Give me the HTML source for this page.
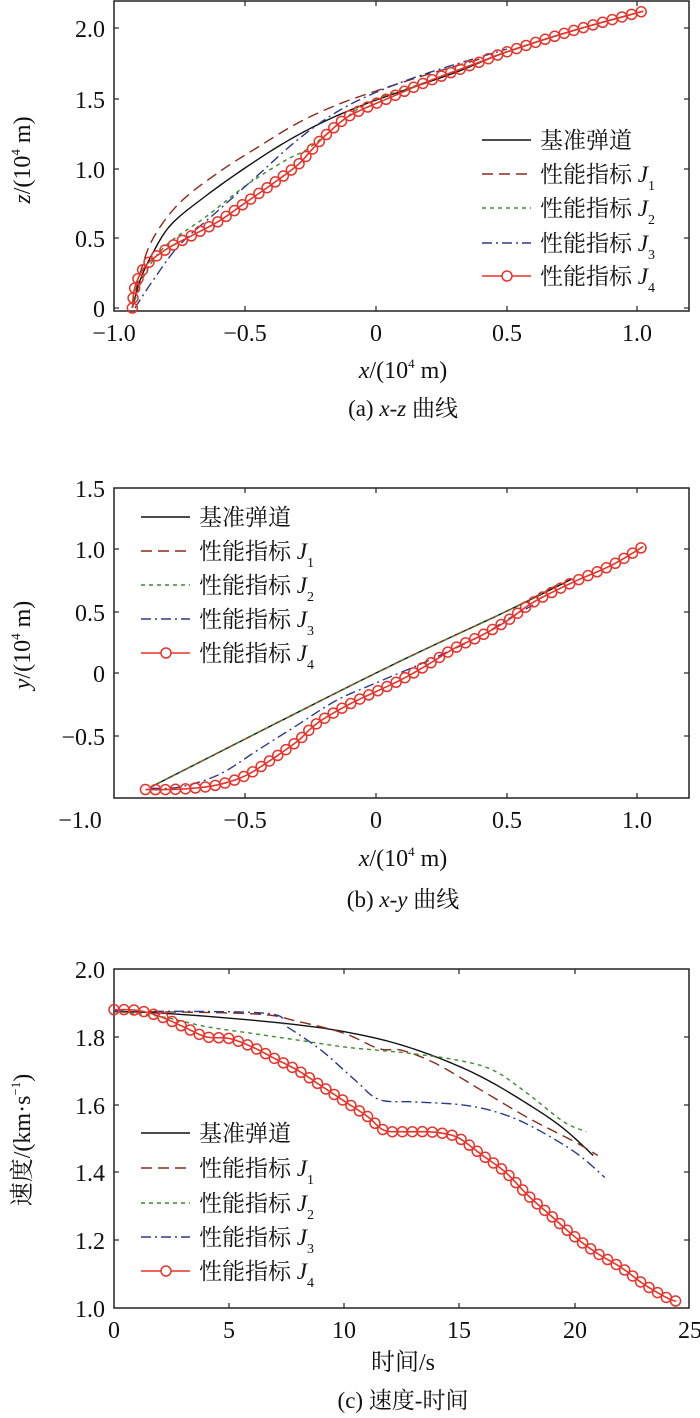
<!DOCTYPE html>
<html><head><meta charset="utf-8"><style>
html,body{margin:0;padding:0;background:#fff}
svg{display:block}
text{font-family:"Liberation Serif","Noto Serif CJK SC","Noto Sans CJK SC",serif;fill:#111}
</style></head><body>
<svg id="s" width="700" height="1418" xmlns="http://www.w3.org/2000/svg">
<rect x="114" y="1" width="575" height="310" fill="none" stroke="#222" stroke-width="1.5"/>
<rect x="114" y="488" width="575" height="310" fill="none" stroke="#222" stroke-width="1.5"/>
<rect x="114" y="969" width="575" height="339" fill="none" stroke="#222" stroke-width="1.5"/>
<g id="ticks" stroke="#222" stroke-width="1.2"></g>
<g id="curves"></g>
<g font-size="24" text-anchor="middle">
<text x="114" y="341">−1.0</text><text x="245" y="341">−0.5</text><text x="376" y="341">0</text><text x="507" y="341">0.5</text><text x="637" y="341">1.0</text>
<g text-anchor="end"><text x="105" y="37">2.0</text><text x="105" y="108">1.5</text><text x="105" y="178">1.0</text><text x="105" y="247">0.5</text><text x="105" y="317">0</text></g>
<text x="403" y="378"><tspan font-style="italic">x</tspan>/(10<tspan font-size="13" dy="-10">4</tspan><tspan dy="10"> m)</tspan></text>
<text x="403" y="416" font-size="23">(a) <tspan font-style="italic">x</tspan>-<tspan font-style="italic">z</tspan> 曲线</text>
<text transform="translate(30,160) rotate(-90)"><tspan font-style="italic">z</tspan>/(10<tspan font-size="13" dy="-10">4</tspan><tspan dy="10"> m)</tspan></text>
<text x="80" y="828">−1.0</text><text x="245" y="828">−0.5</text><text x="376" y="828">0</text><text x="507" y="828">0.5</text><text x="637" y="828">1.0</text>
<g text-anchor="end"><text x="105" y="497">1.5</text><text x="105" y="558">1.0</text><text x="105" y="621">0.5</text><text x="105" y="682">0</text><text x="105" y="745">−0.5</text></g>
<text x="403" y="866"><tspan font-style="italic">x</tspan>/(10<tspan font-size="13" dy="-10">4</tspan><tspan dy="10"> m)</tspan></text>
<text x="403" y="907" font-size="23">(b) <tspan font-style="italic">x</tspan>-<tspan font-style="italic">y</tspan> 曲线</text>
<text transform="translate(30,645) rotate(-90)"><tspan font-style="italic">y</tspan>/(10<tspan font-size="13" dy="-10">4</tspan><tspan dy="10"> m)</tspan></text>
<text x="114" y="1338">0</text><text x="229" y="1338">5</text><text x="344" y="1338">10</text><text x="459" y="1338">15</text><text x="575" y="1338">20</text><text x="690" y="1338">25</text>
<g text-anchor="end"><text x="105" y="978">2.0</text><text x="105" y="1046">1.8</text><text x="105" y="1114">1.6</text><text x="105" y="1181">1.4</text><text x="105" y="1249">1.2</text><text x="105" y="1317">1.0</text></g>
<text x="403" y="1370">时间/s</text>
<text x="403" y="1408" font-size="23">(c) 速度-时间</text>
<text transform="translate(30,1140) rotate(-90)">速度/(km·s<tspan font-size="13" dy="-10">−1</tspan><tspan dy="10">)</tspan></text>
</g>
<g id="legends" font-size="23"></g>
</svg>
<script>
var NS="http://www.w3.org/2000/svg";
function el(p,t,a){var e=document.createElementNS(NS,t);for(var k in a)e.setAttribute(k,a[k]);p.appendChild(e);return e;}
var T=document.getElementById('ticks'),C=document.getElementById('curves'),L=document.getElementById('legends');
function xt(xs,yb,yt){xs.forEach(function(x){el(T,'line',{x1:x,y1:yb,x2:x,y2:yb-5});el(T,'line',{x1:x,y1:yt,x2:x,y2:yt+5});});}
function yt(ys){ys.forEach(function(y){el(T,'line',{x1:114,y1:y,x2:119,y2:y});el(T,'line',{x1:689,y1:y,x2:684,y2:y});});}
xt([245,376,507,637],311,1);yt([28,99,169,238,308]);
xt([245,376,507,637],798,488);yt([549,612,673,736]);
xt([229,344,459,575],1308,969);yt([1037,1105,1172,1240]);
var styles=[{c:'#111',d:''},{c:'#8b2a1a',d:'11,6'},{c:'#3f8a2e',d:'4,4'},{c:'#2b3a8f',d:'10,4,2,4'},{c:'#e8332a',d:''}];
function smooth(P){var o=[P[0]];for(var i=0;i<P.length-1;i++){var p0=P[Math.max(i-1,0)],p1=P[i],p2=P[i+1],p3=P[Math.min(i+2,P.length-1)];
 for(var k=1;k<=8;k++){var t=k/8,t2=t*t,t3=t2*t;o.push([0,1].map(function(j){return 0.5*((2*p1[j])+(-p0[j]+p2[j])*t+(2*p0[j]-5*p1[j]+4*p2[j]-p3[j])*t2+(-p0[j]+3*p1[j]-3*p2[j]+p3[j])*t3);}));}}return o;}
function draw(pts,fx,fy,si,mk){
 var P=smooth(pts.map(function(p){return [fx(p[0]),fy(p[1])];}));
 var s=styles[si];
 el(C,'polyline',{points:P.map(function(p){return p.join(',')}).join(' '),fill:'none',stroke:s.c,'stroke-width':si==4?1.6:1.4,'stroke-dasharray':s.d});
 if(mk){var acc=0,step=10;el(C,'circle',{cx:P[0][0],cy:P[0][1],r:5,fill:'none',stroke:s.c,'stroke-width':1.5});
  for(var i=1;i<P.length;i++){var dx=P[i][0]-P[i-1][0],dy=P[i][1]-P[i-1][1],d=Math.hypot(dx,dy);if(d==0)continue;var t=step-acc;
   while(t<=d){el(C,'circle',{cx:P[i-1][0]+dx*t/d,cy:P[i-1][1]+dy*t/d,r:5,fill:'none',stroke:s.c,'stroke-width':1.5});t+=step;}
   acc=d-(t-step);}
 }
}
function legend(x,ys){var names=['基准弹道','性能指标 ','性能指标 ','性能指标 ','性能指标 '];
 ys.forEach(function(y,i){var s=styles[i];
  el(L,'line',{x1:x,y1:y,x2:x+49,y2:y,stroke:s.c,'stroke-width':1.5,'stroke-dasharray':s.d});
  if(i==4)el(L,'circle',{cx:x+25,cy:y,r:5,fill:'#fff',stroke:s.c,'stroke-width':1.5});
  var t=el(L,'text',{x:x+58,y:y+8});t.textContent=names[i];
  if(i>0){var a=el(t,'tspan',{'font-style':'italic'});a.textContent='J';var b=el(t,'tspan',{'font-size':'14',dy:'8'});b.textContent=i;}
 });}
var ax=function(x){return 376+262*x},az=function(z){return 308-140*z};
draw([[-0.93,0],[-0.9,0.2],[-0.85,0.4],[-0.78,0.6],[-0.65,0.8],[-0.5,1.0],[-0.35,1.18],[-0.2,1.33],[-0.05,1.45],[0.1,1.55],[0.3,1.68],[0.5,1.83],[0.75,1.98],[1.02,2.12]],ax,az,0);
draw([[-0.93,0],[-0.9,0.25],[-0.85,0.5],[-0.75,0.75],[-0.6,0.97],[-0.45,1.15],[-0.3,1.32],[-0.15,1.45],[0,1.55],[0.2,1.67],[0.4,1.78]],ax,az,1);
draw([[-0.93,0],[-0.88,0.25],[-0.8,0.45],[-0.65,0.65],[-0.5,0.87],[-0.35,1.05],[-0.25,1.15],[-0.1,1.38],[0,1.49],[0.2,1.62],[0.5,1.83]],ax,az,2);
draw([[-0.92,0],[-0.85,0.2],[-0.75,0.45],[-0.6,0.7],[-0.45,0.95],[-0.3,1.2],[-0.15,1.4],[0,1.54],[0.2,1.68],[0.5,1.85]],ax,az,3);
draw([[-0.93,0],[-0.92,0.15],[-0.88,0.3],[-0.8,0.42],[-0.7,0.52],[-0.6,0.62],[-0.5,0.75],[-0.4,0.88],[-0.3,1.02],[-0.25,1.12],[-0.2,1.22],[-0.12,1.35],[-0.05,1.42],[0.05,1.5],[0.2,1.62],[0.4,1.76],[0.5,1.83],[0.75,1.98],[1.02,2.12]],ax,az,4,true);
legend(482,[140,174,208,243,276]);
var by=function(y){return 673-124*y};
draw([[-0.86,-0.92],[0,0],[0.5,0.5],[0.75,0.76]],ax,by,0);
draw([[-0.86,-0.92],[0,0],[0.5,0.5],[0.7,0.72]],ax,by,1);
draw([[-0.86,-0.92],[0,0],[0.5,0.5],[0.7,0.72]],ax,by,2);
draw([[-0.86,-0.93],[-0.75,-0.92],[-0.6,-0.82],[-0.45,-0.62],[-0.3,-0.42],[-0.15,-0.22],[0,-0.08],[0.2,0.1],[0.4,0.3],[0.5,0.43],[0.6,0.55]],ax,by,3);
draw([[-0.88,-0.94],[-0.8,-0.94],[-0.7,-0.93],[-0.6,-0.9],[-0.5,-0.83],[-0.4,-0.7],[-0.3,-0.55],[-0.25,-0.45],[-0.2,-0.37],[-0.1,-0.25],[0,-0.15],[0.1,-0.05],[0.2,0.07],[0.3,0.2],[0.4,0.3],[0.5,0.42],[0.6,0.57],[0.75,0.73],[0.9,0.87],[1.02,1.02]],ax,by,4,true);
legend(141,[517,551,585,619,653]);
var ct=function(t){return 114+23.04*t},cv=function(v){return 1308-339*(v-1)};
draw([[0,1.875],[2,1.87],[5,1.855],[8,1.835],[10,1.815],[12,1.785],[14,1.74],[16,1.68],[18,1.6],[19.5,1.53],[20.8,1.45]],ct,cv,0);
draw([[0,1.875],[6,1.868],[8,1.845],[10,1.81],[11.5,1.765],[12.5,1.76],[14,1.72],[16,1.64],[18,1.56],[20,1.49],[21,1.45]],ct,cv,1);
draw([[0,1.875],[2,1.86],[4,1.83],[6,1.81],[8,1.79],[10,1.77],[11.5,1.76],[13,1.75],[15,1.73],[16.5,1.70],[18,1.63],[19.5,1.55],[20.5,1.52]],ct,cv,2);
draw([[0,1.875],[6.5,1.87],[7.5,1.83],[9,1.76],[10.5,1.67],[11.5,1.615],[13,1.608],[15,1.60],[16.5,1.58],[18,1.54],[20,1.46],[21.3,1.385]],ct,cv,3);
draw([[0,1.88],[1,1.878],[2,1.86],[3,1.83],[4,1.80],[5,1.795],[6,1.77],[7,1.735],[8,1.70],[9,1.655],[10,1.61],[11,1.565],[11.7,1.525],[12.5,1.52],[13.5,1.52],[14.3,1.515],[15,1.50],[16,1.45],[17,1.4],[18,1.33],[19,1.27],[20,1.21],[21,1.16],[22,1.12],[23,1.07],[24,1.03],[24.4,1.02]],ct,cv,4,true);
legend(141,[1133,1168,1203,1237,1271]);
</script>
</body></html>
